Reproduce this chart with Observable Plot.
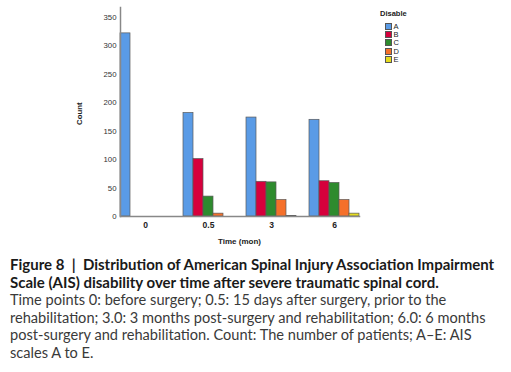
<!DOCTYPE html>
<html>
<head>
<meta charset="utf-8">
<script src="https://cdn.jsdelivr.net/npm/d3@7"></script>
<script src="https://cdn.jsdelivr.net/npm/@observablehq/plot@0.6"></script>
<style>
  html, body { margin: 0; padding: 0; background: #fff; }
  #wrap { position: relative; width: 511px; }
  #legend { position: absolute; left: 376px; top: 9px; font-family: "Liberation Sans", Arial, sans-serif; font-size: 7.5px; color: #222; }
  #legend .title { font-weight: bold; font-size: 7.5px; margin-left: 4px; margin-bottom: 4px; }
  #legend .row { display: flex; align-items: center; height: 8.4px; margin-left: 9px; }
  #legend .sw { width: 5px; height: 5px; border: 0.8px solid #555; margin-right: 1.5px; }
  #caption { font-family: Lato, "Open Sans", sans-serif; margin: 8px 0 0 10px; width: 500px; }
  #caption .t { font-weight: bold; color: #1a1a1a; font-size: 15px; line-height: 17.6px; }
  #caption .b { color: #3a3a3a; font-size: 14.6px; line-height: 17.6px; }
</style>
</head>
<body>
<div id="wrap">
  <div id="chart"></div>
  <div id="legend"></div>
  <div id="caption">
    <div class="t">Figure 8 &nbsp;|&nbsp; Distribution of American Spinal Injury Association Impairment<br>Scale (AIS) disability over time after severe traumatic spinal cord.</div>
    <div class="b">Time points 0: before surgery; 0.5: 15 days after surgery, prior to the<br>rehabilitation; 3.0: 3 months post-surgery and rehabilitation; 6.0: 6 months<br>post-surgery and rehabilitation. Count: The number of patients; A–E: AIS<br>scales A to E.</div>
  </div>
</div>
<script>
const times = ["0", "0.5", "3", "6"];
const grades = ["A", "B", "C", "D", "E"];
const countsA = [322, 182, 174, 170];
const countsB = [0, 101, 61, 62];
const countsC = [0, 35, 60, 59];
const countsD = [0, 5, 29, 29];
const countsE = [0, 0, 1, 5];
const yTicks = [0, 50, 100, 150, 200, 250, 300, 350];
const gradeColors = ["#5a9be6", "#d6003c", "#2e8b2e", "#f5702a", "#e6dc1e"];

const series = [countsA, countsB, countsC, countsD, countsE];
const data = [];
times.forEach((t, i) => grades.forEach((g, j) => {
  data.push({time: t, grade: g, count: series[j][i]});
}));
const drawn = data.filter(d => d.count > 0);

const font = '"Liberation Sans", Arial, sans-serif';

function build(useSuper) {
  const axisLines = useSuper ? [
    Plot.frame({anchor: "bottom", facet: "super", stroke: "#888", strokeWidth: 1.5}),
    Plot.frame({anchor: "left", facet: "super", stroke: "#888", strokeWidth: 1.5})
  ] : [];
  return Plot.plot({
    width: 511,
    height: 248,
    marginLeft: 107,
    marginRight: 139,
    marginTop: 7,
    marginBottom: 32,
    style: {fontFamily: font, fontSize: "7.5px", color: "#222", background: "#fff"},
    fx: {domain: times, paddingInner: 0.206, paddingOuter: 0.206, label: null},
    x: {domain: grades, padding: 0, axis: null},
    y: {domain: [0, 367.5], axis: null},
    color: {domain: grades, range: gradeColors},
    marks: [
      Plot.barY(drawn, {fx: "time", x: "grade", y: "count", fill: "grade", stroke: "#5a5a5a", strokeWidth: 0.7}),
      Plot.axisY(yTicks, {tickSize: 0, tickPadding: 4, label: null, fontSize: 7.8, fill: "#333"}),
      Plot.axisFx({anchor: "bottom", tickSize: 0, tickPadding: 5, label: null, fontWeight: "bold", fontSize: 8.5, fill: "#222"}),
      ...axisLines
    ]
  });
}

let chart;
let usedSuper = true;
try { chart = build(true); } catch (e) { usedSuper = false; chart = build(false); }
document.getElementById("chart").appendChild(chart);

const svg = d3.select(chart.tagName.toLowerCase() === "svg" ? chart : chart.querySelector("svg"));
const ys = chart.scale("y");
const left = 107, right = 511 - 139;
const y0 = ys.apply(0), yTop = ys.apply(ys.domain[1]);
if (!usedSuper) {
  svg.append("line").attr("x1", left).attr("x2", right).attr("y1", y0).attr("y2", y0).attr("stroke", "#888").attr("stroke-width", 1.5);
  svg.append("line").attr("x1", left).attr("x2", left).attr("y1", yTop).attr("y2", y0).attr("stroke", "#888").attr("stroke-width", 1.5);
}
// axis titles
svg.append("text").attr("x", (left + right) / 2).attr("y", y0 + 28)
  .attr("text-anchor", "middle").attr("font-family", font).attr("font-size", 8).attr("font-weight", "bold").attr("fill", "#222")
  .text("Time (mon)");
svg.append("text").attr("transform", `translate(82,${ys.apply(180)}) rotate(-90)`)
  .attr("text-anchor", "middle").attr("font-family", font).attr("font-size", 7.8).attr("font-weight", "bold").attr("fill", "#222")
  .text("Count");

// legend from the color scale
const cs = chart.scale("color");
const leg = document.getElementById("legend");
const title = document.createElement("div");
title.className = "title"; title.textContent = "Disable";
leg.appendChild(title);
cs.domain.forEach((g, i) => {
  const row = document.createElement("div"); row.className = "row";
  const sw = document.createElement("div"); sw.className = "sw"; sw.style.background = cs.range[i];
  const lab = document.createElement("span"); lab.textContent = g;
  row.appendChild(sw); row.appendChild(lab); leg.appendChild(row);
});
</script>
</body>
</html>
